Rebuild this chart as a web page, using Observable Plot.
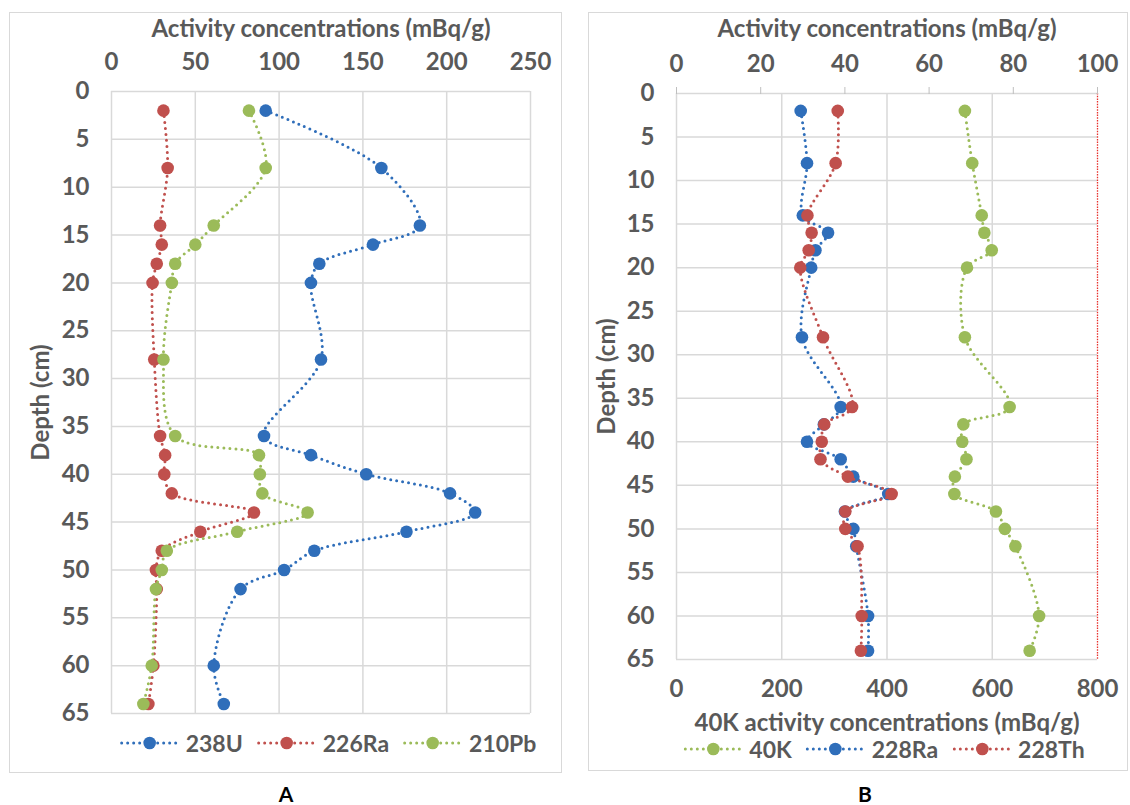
<!DOCTYPE html>
<html><head><meta charset="utf-8">
<script src="https://cdn.jsdelivr.net/npm/d3@7"></script>
<script src="https://cdn.jsdelivr.net/npm/@observablehq/plot@0.6"></script>
<style>
body{margin:0;background:#fff;font-family:Lato,"Open Sans",sans-serif;}
#wrap{position:relative;width:1130px;height:805px;overflow:hidden;background:#fff;}
.frame{position:absolute;border:1.5px solid #d9d9d9;box-sizing:border-box;}
.panel{position:absolute;top:0;}
.legend{position:absolute;display:flex;align-items:center;font-weight:bold;font-size:23px;line-height:20px;height:20px;color:#595959;white-space:nowrap;transform:translateX(-50%);}
.legend .item{display:flex;align-items:center;margin:0 7px;}
.legend svg{margin-right:6px;}
.letter{position:absolute;font-weight:bold;font-size:21px;line-height:21px;color:#000;transform:translateX(-50%);}
</style></head><body><div id="wrap">
<div class="frame" style="left:9px;top:12px;width:553px;height:761px"></div>
<div class="frame" style="left:588px;top:12px;width:540px;height:759px"></div>
<div id="pa" class="panel" style="left:0"></div>
<div id="pb" class="panel" style="left:565px"></div>
<div id="legA" class="legend" style="left:328px;top:733px"></div>
<div id="legB" class="legend" style="left:884px;top:739px"></div>
<div class="letter" style="left:286px;top:783px">A</div>
<div class="letter" style="left:865px;top:783px">B</div>
</div>
<script>
// ---------- Data ----------
const depthA = [2, 8, 14, 16, 18, 20, 28, 36, 38, 40, 42, 44, 46, 48, 50, 52, 60, 64];
const u238  = [92, 161, 184, 156, 124, 119, 125, 91, 119, 152, 202, 217, 176, 121, 103, 77, 61, 67];
const ra226 = [31, 33.5, 29, 30, 27, 24.5, 25.5, 29, 32, 31.5, 36, 85, 53, 30, 26.5, 27, 25, 22];
const pb210 = [82, 92, 61, 50, 38, 36, 31, 38, 88, 88.5, 90, 117, 75, 33, 30, 26.5, 24, 19];
const seriesNamesA = ["238U", "226Ra", "210Pb"];

const depthB = [2, 8, 14, 16, 18, 20, 28, 36, 38, 40, 42, 44, 46, 48, 50, 52, 60, 64];
const k40   = [548, 562, 580, 585, 599, 552, 548, 633, 545, 543, 551, 529, 528, 607, 624, 644, 689, 671]; // bottom axis (0-800)
const ra228 = [29.5, 31, 30, 36, 33, 32, 29.8, 39, 35, 31, 39, 42, 50.3, 40, 42, 42.7, 45.5, 45.5]; // top axis (0-100)
const th228 = [38.3, 37.8, 31.1, 32.1, 31.4, 29.4, 34.8, 41.7, 35.1, 34.5, 34.2, 40.7, 51.1, 40.1, 40.1, 43, 44, 43.8]; // top axis
const seriesNamesB = ["40K", "228Ra", "228Th"];

const ticksA = [0, 50, 100, 150, 200, 250];
const ticksDepth = [0, 5, 10, 15, 20, 25, 30, 35, 40, 45, 50, 55, 60, 65];
const ticksBottomB = [0, 200, 400, 600, 800];
const ticksTopB = [0, 20, 40, 60, 80, 100];

// ---------- Styles ----------
const BLUE = "#2F6EBA", RED = "#C0504D", GREEN = "#9BBB59";
const colorA = {"238U": BLUE, "226Ra": RED, "210Pb": GREEN};
const colorB = {"40K": GREEN, "228Ra": BLUE, "228Th": RED};
const GRID = "#d9d9d9";
const TEXT = "#595959";
const lineStyle = {curve: "catmull-rom", strokeWidth: 3, strokeDasharray: "0 6", strokeLinecap: "round"};

function rows(depths, values, name, f = v => v) {
  return values.map((v, i) => ({series: name, depth: depths[i], value: f(v)}));
}
function seriesMarks(data, color) {
  return [
    Plot.line(data, {x: "value", y: "depth", stroke: color, ...lineStyle}),
    Plot.dot(data, {x: "value", y: "depth", fill: color, r: 6.3})
  ];
}
const style = {fontFamily: "Lato, 'Open Sans', sans-serif", fontSize: "24px", fontWeight: "bold", color: TEXT, background: "transparent", overflow: "visible"};

// ---------- Panel A ----------
const dataA = [rows(depthA, u238, "238U"), rows(depthA, ra226, "226Ra"), rows(depthA, pb210, "210Pb")];
const plotA = Plot.plot({
  width: 565, height: 780,
  marginLeft: 111, marginRight: 35, marginTop: 91, marginBottom: 67,
  style,
  x: {domain: [0, 250]},
  y: {domain: [0, 65], reverse: true},
  marks: [
    Plot.ruleX(ticksA, {stroke: GRID, strokeWidth: 1.5}),
    Plot.ruleY(ticksDepth, {stroke: GRID, strokeWidth: 1.5}),
    Plot.axisX({anchor: "top", ticks: ticksA, tickSize: 0, tickPadding: 22,
      label: "Activity concentrations (mBq/g)", labelAnchor: "center", labelArrow: "none", labelOffset: 72}),
    Plot.axisY({anchor: "left", ticks: ticksDepth, tickSize: 0, tickPadding: 22,
      label: "Depth (cm)", labelAnchor: "center", labelArrow: "none", labelOffset: 80}),
    ...dataA.flatMap((d, i) => seriesMarks(d, colorA[seriesNamesA[i]]))
  ]
});
document.getElementById("pa").append(plotA);

// ---------- Panel B ----------
// x scale is the 40K (bottom) axis 0-800; top axis (0-100) values are scaled by 8.
const dataB = [rows(depthB, k40, "40K"), rows(depthB, ra228, "228Ra", v => v * 8), rows(depthB, th228, "228Th", v => v * 8)];
const plotB = Plot.plot({
  width: 565, height: 780,
  marginLeft: 111, marginRight: 33, marginTop: 93, marginBottom: 121,
  style,
  x: {domain: [0, 800]},
  y: {domain: [0, 65], reverse: true},
  marks: [
    Plot.ruleX([0, 200, 400, 600], {stroke: GRID, strokeWidth: 1.5}),
    Plot.ruleY(ticksDepth, {stroke: GRID, strokeWidth: 1.5}),
    Plot.ruleX([800], {stroke: "#E8302C", strokeWidth: 1.3, strokeDasharray: "1.5 1.2"}),
    Plot.axisX({anchor: "top", ticks: ticksTopB.map(t => t * 8), tickSize: 7, stroke: "#bfbfbf", tickFormat: () => "", label: null}),
    Plot.axisX({anchor: "top", ticks: ticksTopB.map(t => t * 8), tickSize: 0, tickPadding: 22, tickFormat: d => d / 8,
      label: "Activity concentrations (mBq/g)", labelAnchor: "center", labelArrow: "none", labelOffset: 74}),
    Plot.axisX({anchor: "bottom", ticks: ticksBottomB, tickSize: 0, tickPadding: 20,
      label: "40K activity concentrations (mBq/g)", labelAnchor: "center", labelArrow: "none", labelOffset: 71}),
    Plot.axisY({anchor: "left", ticks: ticksDepth, tickSize: 0, tickPadding: 22,
      label: "Depth (cm)", labelAnchor: "center", labelArrow: "none", labelOffset: 79}),
    ...dataB.flatMap((d, i) => seriesMarks(d, colorB[seriesNamesB[i]]))
  ]
});
document.getElementById("pb").append(plotB);

// ---------- Legends ----------
function legend(el, names, colors) {
  for (const n of names) {
    const item = document.createElement("div");
    item.className = "item";
    const c = colors[n];
    item.innerHTML = `<svg width="60" height="16"><line x1="2" y1="8" x2="58" y2="8" stroke="${c}" stroke-width="3" stroke-dasharray="0 6" stroke-linecap="round"/><circle cx="30" cy="8" r="6.3" fill="${c}"/></svg><span>${n}</span>`;
    el.append(item);
  }
}
legend(document.getElementById("legA"), seriesNamesA, colorA);
legend(document.getElementById("legB"), seriesNamesB, colorB);
</script>
</body></html>
